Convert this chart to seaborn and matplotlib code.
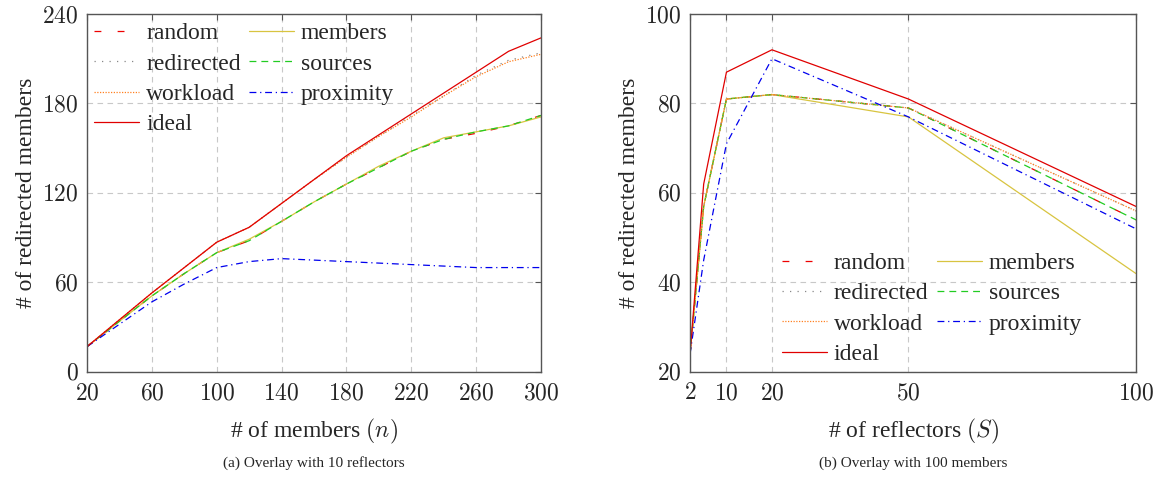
import matplotlib
matplotlib.use("Agg")
import matplotlib.pyplot as plt
import seaborn as sns

# (a) overlay with 10 reflectors
members_n = [20, 40, 60, 80, 100, 120, 140, 160, 180, 200, 220, 240, 260, 280, 300]
a_random = [17, 34, 51, 66, 80, 88, 101, 114, 126, 137, 148, 156, 160, 165, 172]
a_members = [17, 34, 51, 66, 80, 89, 101, 114, 126, 138, 148, 157, 161, 165, 171]
a_redirected = [17, 35, 53, 70, 87, 97, 113, 129, 144, 158, 172, 185, 199, 209, 214]
a_sources = [17, 34, 51, 66, 80, 88, 101, 114, 126, 137, 148, 156, 161, 165, 172]
a_workload = [17, 35, 53, 70, 87, 97, 113, 129, 144, 158, 171, 185, 198, 208, 213]
a_proximity = [17, 32, 47, 59, 70, 74, 76, 75, 74, 73, 72, 71, 70, 70, 70]
a_ideal = [17, 35, 53, 70, 87, 97, 113, 129, 145, 159, 173, 187, 201, 215, 224]

# (b) overlay with 100 members
reflectors = [2, 5, 10, 20, 50, 100]
b_random = [24, 57, 81, 82, 79, 54]
b_members = [24, 57, 81, 82, 77, 42]
b_redirected = [24, 57, 81, 82, 79, 56]
b_sources = [24, 57, 81, 82, 79, 54]
b_workload = [24, 57, 81, 82, 79, 56]
b_proximity = [24, 45, 71, 90, 77, 52]
b_ideal = [24, 62, 87, 92, 81, 57]

series_names = ["random", "members", "redirected", "sources", "workload", "proximity", "ideal"]
styles = {
    "random": dict(color="#ee0000", dashes=(5.5, 13)),
    "members": dict(color="#d8c440", dashes=()),
    "redirected": dict(color="#888888", dashes=(1, 5)),
    "sources": dict(color="#22cc22", dashes=(5.5, 4)),
    "workload": dict(color="#ff8020", dashes=(1, 1.2)),
    "proximity": dict(color="#0000ee", dashes=(5.5, 3, 1, 3)),
    "ideal": dict(color="#e00000", dashes=()),
}

sns.set_theme(style="whitegrid")
plt.rcParams["font.family"] = ["Liberation Serif", "DejaVu Serif"]
plt.rcParams["mathtext.fontset"] = "cm"

FS = 17

fig = plt.figure(figsize=(11.57, 4.78), dpi=100)
ax1 = fig.add_axes([0.0752, 0.2218, 0.3924, 0.7489])
ax2 = fig.add_axes([0.5964, 0.2218, 0.3854, 0.7489])


def draw(ax, x, data):
    handles = {}
    for name in series_names:
        st = styles[name]
        sns.lineplot(x=x, y=data[name], ax=ax, color=st["color"], linewidth=0.9, label=name)
        line = ax.get_lines()[-1]
        if st["dashes"]:
            line.set_dashes(st["dashes"])
        handles[name] = line
    # column-wise fill gives the row order of the original legend
    order = ["random", "redirected", "workload", "ideal", "members", "sources", "proximity"]
    return [handles[k] for k in order], order


def style_axes(ax, xt, yt):
    ax.grid(True, color="#c8c8c8", linestyle=(0, (5, 4)), linewidth=0.8)
    ax.set_facecolor("white")
    for sp in ax.spines.values():
        sp.set_color("#555555")
        sp.set_linewidth(1.0)
    ax.set_xticks(xt)
    ax.set_yticks(yt)
    ax.set_xticklabels([f"${v}$" for v in xt])
    ax.set_yticklabels([f"${v}$" for v in yt])
    ax.tick_params(direction="in", top=True, right=True, length=4, width=0.8,
                   color="#555555", labelsize=FS)
    ax.tick_params(axis="x", pad=8)
    ax.tick_params(axis="y", pad=6)


a_data = dict(random=a_random, members=a_members, redirected=a_redirected, sources=a_sources,
              workload=a_workload, proximity=a_proximity, ideal=a_ideal)
b_data = dict(random=b_random, members=b_members, redirected=b_redirected, sources=b_sources,
              workload=b_workload, proximity=b_proximity, ideal=b_ideal)

h1, l1 = draw(ax1, members_n, a_data)
h2, l2 = draw(ax2, reflectors, b_data)

style_axes(ax1, [20, 60, 100, 140, 180, 220, 260, 300], [0, 60, 120, 180, 240])
style_axes(ax2, [2, 10, 20, 50, 100], [20, 40, 60, 80, 100])

ax1.set_xlim(20, 300)
ax1.set_ylim(0, 240)
ax2.set_xlim(2, 100)
ax2.set_ylim(20, 100)

leg_kw = dict(ncol=2, frameon=False, fontsize=FS, handlelength=1.9, columnspacing=0.35,
              handletextpad=0.3, labelspacing=0.37, borderpad=0.2, borderaxespad=0.1)

for ax, xl in ((ax1, "# of members $(n)$"), (ax2, "# of reflectors $(S)$")):
    ax.set_xlabel(xl, fontsize=FS, labelpad=9)
    ax.set_ylabel("# of redirected members", fontsize=FS, labelpad=4)

ax1.legend(h1, l1, loc="upper left", bbox_to_anchor=(0.0, 0.995), **leg_kw)
ax2.legend(h2, l2, loc="lower left", bbox_to_anchor=(0.19, 0.0), **leg_kw)

fig.text(0.2714, 0.031, "(a) Overlay with 10 reflectors", ha="center", va="center", fontsize=11)
fig.text(0.7891, 0.031, "(b) Overlay with 100 members", ha="center", va="center", fontsize=11)

fig.savefig("out.png", dpi=100)
